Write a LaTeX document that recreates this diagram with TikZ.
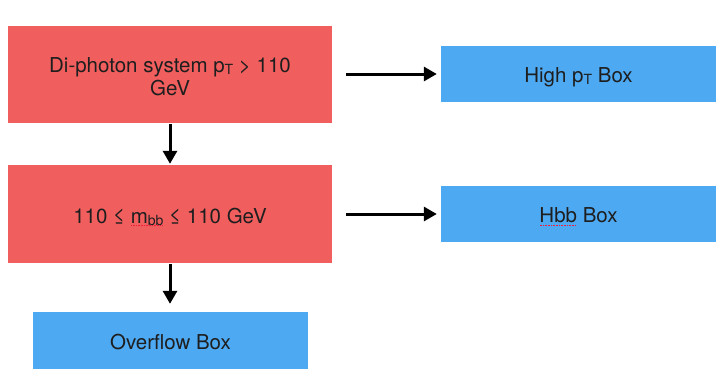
\documentclass[tikz,border=0pt]{standalone}
\usepackage{fontspec}
\setmainfont{TeX Gyre Heros}
\usetikzlibrary{arrows.meta}
\definecolor{boxred}{RGB}{241,94,94}
\definecolor{boxblue}{RGB}{77,169,242}
\definecolor{txt}{RGB}{30,30,30}
\definecolor{spell}{RGB}{235,30,60}
\newcommand\lowsub[1]{\raisebox{-0.12em}{\fontsize{14}{14}\selectfont #1}}
\newsavebox\spellbox
\newcommand\spellmark[1]{\sbox\spellbox{#1}\rlap{\raisebox{-3pt}{\color{spell}\leaders\hbox to 1.6pt{\hss\rule{0.9pt}{0.9pt}\hss}\hskip\wd\spellbox\relax}}\usebox\spellbox}
\begin{document}
\begin{tikzpicture}[x=1pt,y=-1pt,
  boxtext/.style={text=txt,align=center,font=\fontsize{20.5}{23}\selectfont,inner sep=0pt,text height=17pt,text depth=0pt},
  redbox/.style={rectangle,fill=boxred,draw=none,minimum width=324pt,boxtext},
  bluebox/.style={rectangle,fill=boxblue,draw=none,minimum width=275pt,minimum height=56pt,boxtext},
  flow/.style={line width=3pt,-{Triangle[length=13pt,width=14pt]}}]
\useasboundingbox (0,0) rectangle (722,389);
\node[redbox,minimum height=97pt,text height=41pt,text depth=0pt] (r1) at (170,74.5) {Di-photon system p\lowsub{T} > 110\\GeV};
\node[redbox,minimum height=98pt,text height=18pt] (r2) at (170,214) {110 ≤ \spellmark{m\lowsub{bb}} ≤ 110 GeV};
\node[bluebox] (hp) at (578.5,74) {High p\lowsub{T} Box};
\node[bluebox] (hb) at (578.5,214) {\spellmark{Hbb} Box};
\node[bluebox,minimum height=57pt] (ov) at (170.5,340.5) {Overflow Box};
\draw[flow,shorten <=1pt,shorten >=1pt] (r1.south) -- (r2.north);
\draw[flow,shorten <=1pt,shorten >=8pt] (r2.south) -- (r2.south |- ov.north);
\draw[flow,shorten <=14pt,shorten >=4pt] (r1.east |- hp.west) -- (hp.west);
\draw[flow,shorten <=14pt,shorten >=4pt] (r2.east |- hb.west) -- (hb.west);
\end{tikzpicture}
\end{document}
